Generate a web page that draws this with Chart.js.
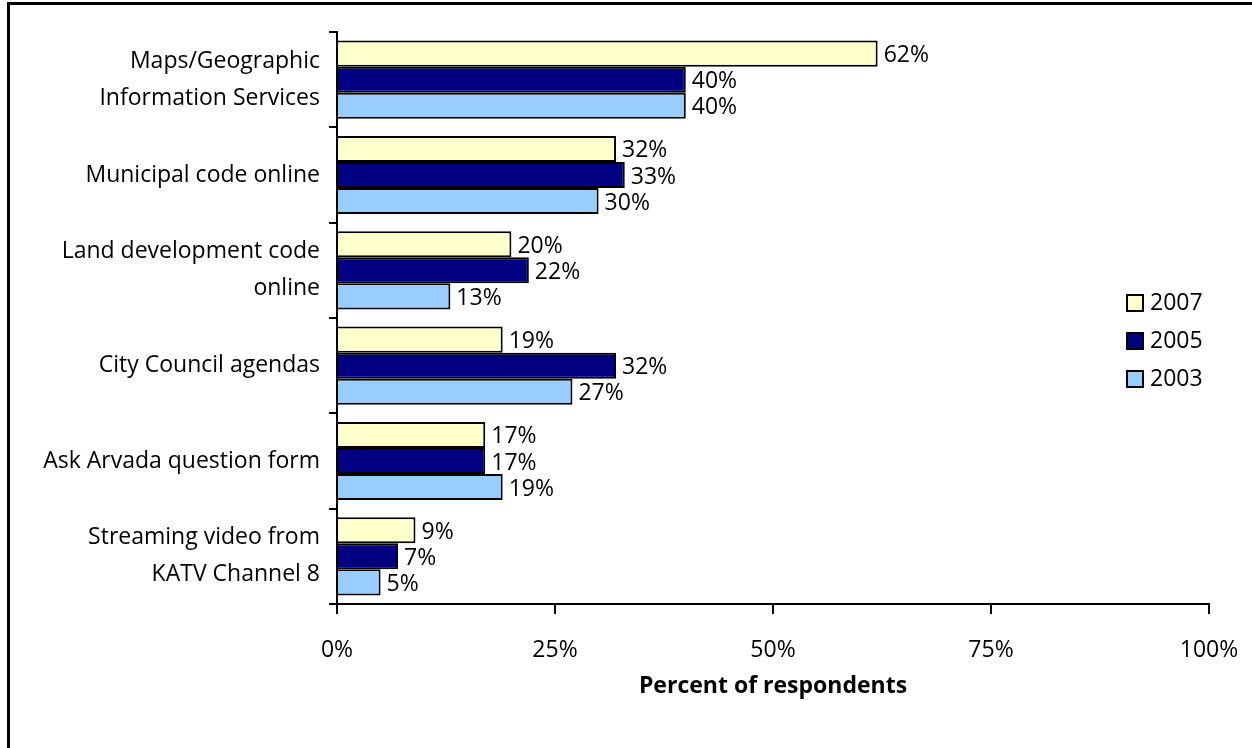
<!DOCTYPE html>
<html>
<head>
<meta charset="utf-8">
<script src="https://cdn.jsdelivr.net/npm/chart.js@4/dist/chart.umd.min.js"></script>
<style>
  body { margin: 0; background: #fff; }
  #wrap { position: relative; width: 1252px; height: 748px; }
  #frame { position: absolute; left: 7px; top: 2px; right: 0; bottom: -10px;
           border-left: 3px solid #000; border-top: 3px solid #000; pointer-events: none; }
</style>
</head>
<body>
<div id="wrap">
  <canvas id="featuresChart" width="1252" height="748"></canvas>
  <div id="frame"></div>
</div>
<script>
const categories = [
  ['Maps/Geographic', 'Information Services'],
  'Municipal code online',
  ['Land development code', 'online'],
  'City Council agendas',
  'Ask Arvada question form',
  ['Streaming video from', 'KATV Channel 8']
];
const years = ['2007', '2005', '2003'];
const values2007 = [62, 32, 20, 19, 17, 9];
const values2005 = [40, 33, 22, 32, 17, 7];
const values2003 = [40, 30, 13, 27, 19, 5];
const xTicks = [0, 25, 50, 75, 100];

const fontFamily = '"Open Sans", Lato, sans-serif';
const fontSize = 23;
const colors = ['#FFFFCC', '#000080', '#99CCFF'];

// value labels at the end of each bar
const barLabels = {
  id: 'barLabels',
  afterDatasetsDraw(chart) {
    const ctx = chart.ctx;
    ctx.save();
    ctx.font = fontSize + 'px ' + fontFamily;
    ctx.fillStyle = '#000';
    ctx.textAlign = 'left';
    ctx.textBaseline = 'middle';
    chart.data.datasets.forEach((ds, i) => {
      chart.getDatasetMeta(i).data.forEach((bar, j) => {
        ctx.fillText(ds.data[j] + '%', bar.x + 6, bar.y + 2);
      });
    });
    ctx.restore();
  }
};

// small legend at the right, boxes with black outline
const sideLegend = {
  id: 'sideLegend',
  afterDraw(chart) {
    const ctx = chart.ctx;
    ctx.save();
    ctx.font = fontSize + 'px ' + fontFamily;
    ctx.textBaseline = 'middle';
    chart.data.datasets.forEach((ds, i) => {
      const y = 303 + i * 38;
      ctx.fillStyle = ds.backgroundColor;
      ctx.fillRect(1127, y - 8, 16, 16);
      ctx.lineWidth = 2;
      ctx.strokeStyle = '#000';
      ctx.strokeRect(1127, y - 8, 16, 16);
      ctx.fillStyle = '#000';
      ctx.fillText(ds.label, 1150, y);
    });
    ctx.restore();
  }
};

new Chart(document.getElementById('featuresChart'), {
  type: 'bar',
  data: {
    labels: categories,
    datasets: [
      { label: years[0], data: values2007, backgroundColor: colors[0] },
      { label: years[1], data: values2005, backgroundColor: colors[1] },
      { label: years[2], data: values2003, backgroundColor: colors[2] }
    ].map(d => Object.assign(d, {
      borderColor: '#000',
      borderWidth: 2,
      categoryPercentage: 0.82,
      barPercentage: 1
    }))
  },
  options: {
    indexAxis: 'y',
    responsive: false,
    animation: false,
    layout: { padding: { left: 0, right: 43, top: 32, bottom: 0 } },
    plugins: {
      legend: { display: false },
      tooltip: { enabled: false }
    },
    scales: {
      x: {
        min: 0,
        max: 100,
        afterBuildTicks: (scale) => { scale.ticks = xTicks.map(v => ({ value: v })); },
        afterFit: (scale) => {
          scale.height = 144;
          scale.paddingLeft = 0;
          scale.paddingRight = 0;
        },
        ticks: {
          color: '#000',
          font: { family: fontFamily, size: fontSize },
          padding: 23,
          callback: (v) => v + '%'
        },
        grid: { drawOnChartArea: false, tickLength: 10, color: '#000', lineWidth: 2 },
        border: { display: true, color: '#000', width: 2 },
        title: {
          display: true,
          text: 'Percent of respondents',
          color: '#000',
          font: { family: fontFamily, size: 23, weight: 'bold' },
          padding: { top: 0, bottom: 48 }
        }
      },
      y: {
        afterFit: (scale) => {
          scale.width = 337;
          scale.paddingTop = 0;
          scale.paddingBottom = 0;
        },
        ticks: {
          color: '#000',
          font: { family: fontFamily, size: fontSize, lineHeight: 1.6 },
          padding: 9
        },
        grid: { drawOnChartArea: false, tickLength: 8, color: '#000', lineWidth: 2 },
        border: { display: true, color: '#000', width: 2 }
      }
    }
  },
  plugins: [barLabels, sideLegend]
});
</script>
</body>
</html>
